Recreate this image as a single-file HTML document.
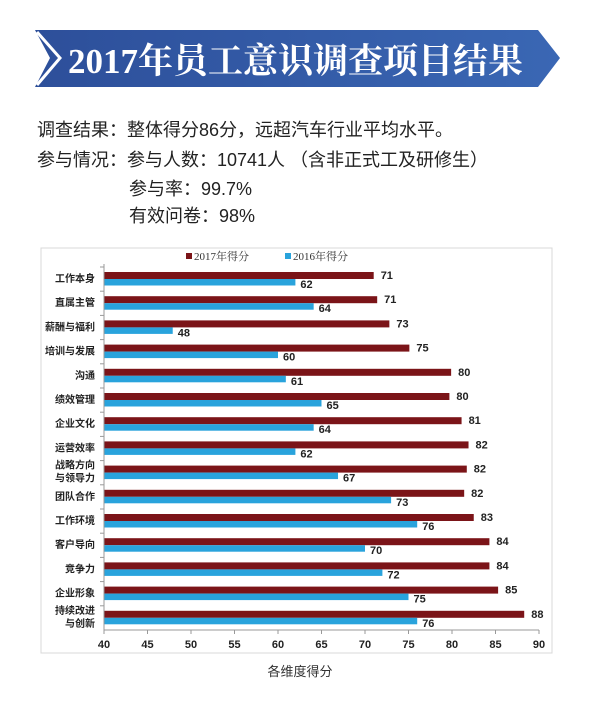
<!DOCTYPE html>
<html><head><meta charset="utf-8"><style>
body{margin:0;width:600px;height:708px;background:#fff;overflow:hidden;font-family:"Liberation Sans","Noto Sans CJK SC",sans-serif}
</style></head><body>
<svg width="600" height="708" xmlns="http://www.w3.org/2000/svg" style="position:absolute;left:0;top:0">
<defs><linearGradient id="g" x1="0" x2="1"><stop offset="0" stop-color="#2d4f9a"/><stop offset="1" stop-color="#3a67b4"/></linearGradient></defs>
<polygon points="35,30 538,30 560,58 538,87 35,87 50,58" fill="url(#g)"/>
<polyline points="37,32 60,58 37,85" fill="none" stroke="#fff" stroke-width="3"/>
<text x="68" y="73" fill="#fff" font-family="'Liberation Serif','Noto Serif CJK SC',serif" font-weight="bold" font-size="35" textLength="455" lengthAdjust="spacingAndGlyphs">2017年员工意识调查项目结果</text>
<g font-family="'Liberation Sans','Noto Sans CJK SC',sans-serif" font-size="18" fill="#222">
<text x="37" y="136">调查结果：整体得分86分，远超汽车行业平均水平。</text>
<text x="37" y="166">参与情况：参与人数：10741人 （含非正式工及研修生）</text>
<text x="129" y="195">参与率：99.7%</text>
<text x="129" y="222">有效问卷：98%</text>
</g>
<rect x="41" y="248" width="511" height="405" fill="#fff" stroke="#d8d8d8"/>
<rect x="186" y="253" width="6" height="6" fill="#7b1418"/><text x="194" y="260" font-size="11" font-family="'Liberation Serif','Noto Serif CJK SC',serif" fill="#333">2017年得分</text>
<rect x="285" y="253" width="6" height="6" fill="#29a3dc"/><text x="293" y="260" font-size="11" font-family="'Liberation Serif','Noto Serif CJK SC',serif" fill="#333">2016年得分</text>
<g id="c"></g>
<text x="300" y="676" font-size="13" text-anchor="middle" fill="#333">各维度得分</text>
</svg>
<script>
var cats=["工作本身","直属主管","薪酬与福利","培训与发展","沟通","绩效管理","企业文化","运营效率","战略方向|与领导力","团队合作","工作环境","客户导向","竞争力","企业形象","持续改进|与创新"];
var a=[71.0,71.4,72.8,75.1,79.9,79.7,81.1,81.9,81.7,81.4,82.5,84.3,84.3,85.3,88.3];
var al=[71,71,73,75,80,80,81,82,82,82,83,84,84,85,88];
var b=[62,64.1,47.9,60,60.9,65,64.1,62,66.9,73,76,70,72,75,76];
var bl=[62,64,48,60,61,65,64,62,67,73,76,70,72,75,76];
function X(v){return 104+(v-40)*8.7}
var s="";
for(var i=0;i<15;i++){var y=272+i*24.2;
s+='<rect x="104" y="'+y+'" width="'+(X(a[i])-104)+'" height="7" fill="#7b1418"/>';
s+='<rect x="104" y="'+(y+7)+'" width="'+(X(b[i])-104)+'" height="6.5" fill="#29a3dc"/>';
s+='<text x="'+(X(a[i])+7)+'" y="'+(y+7)+'" font-size="11" font-weight="bold" fill="#222">'+al[i]+'</text>';
s+='<text x="'+(X(b[i])+5)+'" y="'+(y+16)+'" font-size="11" font-weight="bold" fill="#222">'+bl[i]+'</text>';
var p=cats[i].split("|");
if(p.length==1)s+='<text x="95" y="'+(y+10)+'" font-size="10" font-weight="bold" text-anchor="end" fill="#222">'+p[0]+'</text>';
else s+='<text x="95" y="'+(y+3)+'" font-size="10" font-weight="bold" text-anchor="end" fill="#222">'+p[0]+'</text><text x="95" y="'+(y+16)+'" font-size="10" font-weight="bold" text-anchor="end" fill="#222">'+p[1]+'</text>';
s+='<line x1="100" x2="104" y1="'+(y-5)+'" y2="'+(y-5)+'" stroke="#999"/>';
}
s+='<line x1="104" x2="104" y1="264" y2="630" stroke="#999"/><line x1="104" x2="539" y1="630" y2="630" stroke="#999"/>';
for(var t=40;t<=90;t+=5){var x=X(t);s+='<line x1="'+x+'" x2="'+x+'" y1="630" y2="634" stroke="#999"/><text x="'+x+'" y="648" font-size="11" font-weight="bold" text-anchor="middle" fill="#222">'+t+'</text>';}
document.getElementById("c").innerHTML=s;
</script>
</body></html>
